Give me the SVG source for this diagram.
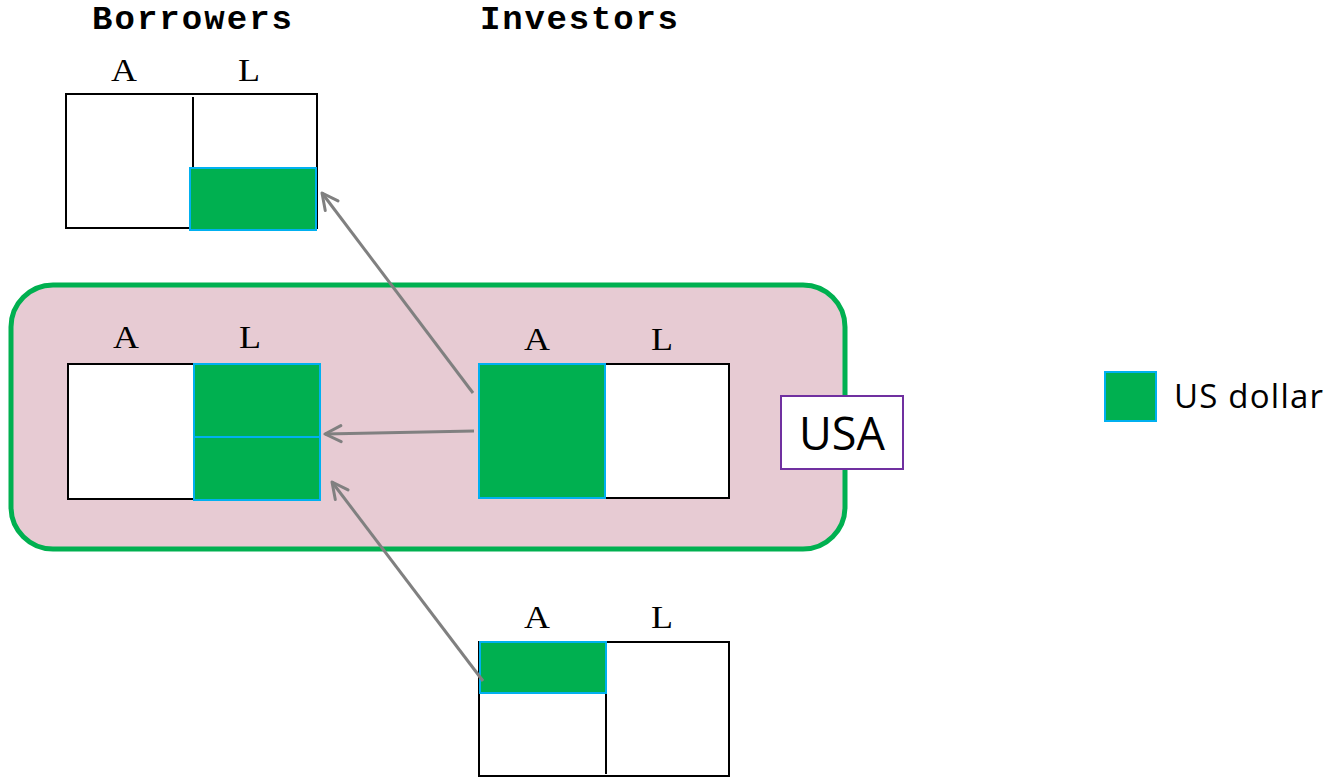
<svg xmlns="http://www.w3.org/2000/svg" width="1331" height="779" viewBox="0 0 1331 779">
  <style>
    .title { font-family: "Liberation Mono", "Courier New", monospace; font-weight: bold; font-size: 34px; fill: #000; }
    .col { font-family: "Liberation Serif", "Times New Roman", serif; font-size: 31px; fill: #000; text-anchor: middle; }
    .sheet { fill: #fff; stroke: #000; stroke-width: 2; }
    .div { stroke: #000; stroke-width: 2; }
    .usd { fill: #00B050; stroke: #00B0F0; stroke-width: 2; }
    .flow { stroke: #808080; stroke-width: 3; fill: none; marker-end: url(#chev); }
    .sans { font-family: "Open Sans", "Noto Sans", sans-serif; fill: #000; }
  </style>
  <defs>
    <marker id="chev" viewBox="0 0 20 20" refX="18" refY="10" markerWidth="20" markerHeight="20" markerUnits="userSpaceOnUse" orient="auto">
      <path d="M2,2 L18,10 L2,18" fill="none" stroke="#808080" stroke-width="3" stroke-linecap="round" stroke-linejoin="round"/>
    </marker>
  </defs>

  <rect width="1331" height="779" fill="#fff"/>

  <!-- column headings -->
  <text class="title" x="92" y="29" textLength="200">Borrowers</text>
  <text class="title" x="480" y="29" textLength="198">Investors</text>

  <!-- country region -->
  <g id="usa-region">
    <rect x="11" y="285" width="834" height="264" rx="42" ry="42" fill="#E7CBD3" stroke="#00B050" stroke-width="5"/>
  </g>

  <!-- foreign borrower balance sheet -->
  <g id="borrower-foreign">
    <text class="col" x="124" y="81" textLength="26" lengthAdjust="spacingAndGlyphs">A</text>
    <text class="col" x="249" y="81" textLength="22" lengthAdjust="spacingAndGlyphs">L</text>
    <rect class="sheet" x="66" y="94" width="251" height="134"/>
    <line class="div" x1="193" y1="97" x2="193" y2="228"/>
    <rect class="usd" x="190" y="168" width="126" height="62"/>
  </g>

  <!-- US borrower balance sheet -->
  <g id="borrower-us">
    <text class="col" x="126" y="348" textLength="26" lengthAdjust="spacingAndGlyphs">A</text>
    <text class="col" x="250" y="348" textLength="22" lengthAdjust="spacingAndGlyphs">L</text>
    <rect class="sheet" x="68" y="364" width="252" height="135"/>
    <rect class="usd" x="194" y="364" width="126" height="73"/>
    <rect class="usd" x="194" y="437" width="126" height="63"/>
  </g>

  <!-- US investor balance sheet -->
  <g id="investor-us">
    <text class="col" x="537" y="350" textLength="26" lengthAdjust="spacingAndGlyphs">A</text>
    <text class="col" x="662" y="350" textLength="22" lengthAdjust="spacingAndGlyphs">L</text>
    <rect class="sheet" x="479" y="364" width="250" height="134"/>
    <rect class="usd" x="479" y="364" width="126" height="134"/>
  </g>

  <!-- foreign investor balance sheet -->
  <g id="investor-foreign">
    <text class="col" x="537" y="628" textLength="26" lengthAdjust="spacingAndGlyphs">A</text>
    <text class="col" x="662" y="628" textLength="22" lengthAdjust="spacingAndGlyphs">L</text>
    <rect class="sheet" x="479" y="642" width="250" height="134"/>
    <line class="div" x1="606" y1="642" x2="606" y2="774"/>
    <rect class="usd" x="480" y="642" width="126" height="51"/>
  </g>

  <!-- region label -->
  <g id="usa-label">
    <rect x="781" y="396" width="122" height="73" fill="#fff" stroke="#7030A0" stroke-width="2"/>
    <text class="sans" x="842" y="450" font-size="45" text-anchor="middle">USA</text>
  </g>

  <!-- legend -->
  <g id="legend">
    <rect class="usd" x="1105" y="372" width="51" height="49"/>
    <text class="sans" x="1174" y="408" font-size="33" textLength="149">US dollar</text>
  </g>

  <!-- dollar flows -->
  <g id="connectors">
    <line class="flow" x1="473" y1="393" x2="322" y2="193"/>
    <line class="flow" x1="474" y1="431" x2="325" y2="434"/>
    <line class="flow" x1="483" y1="681" x2="332" y2="482"/>
  </g>
</svg>
